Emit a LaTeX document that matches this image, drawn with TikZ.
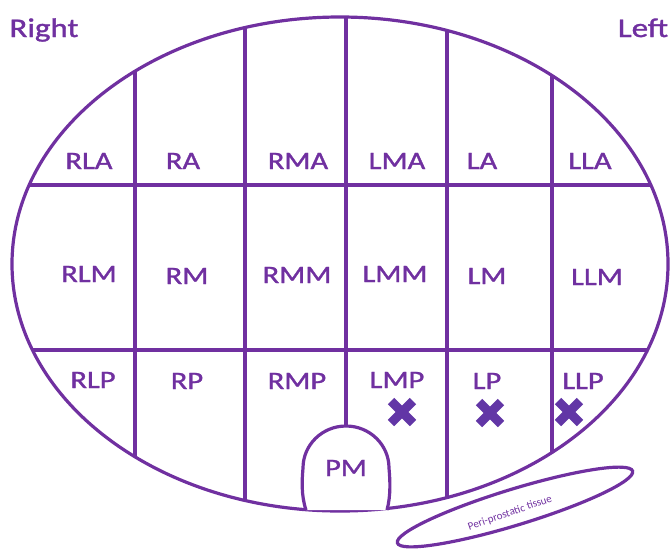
\documentclass[tikz,border=0pt]{standalone}
\usepackage{fontspec}
\setmainfont{Carlito}
\newfontfamily\labfont[FakeBold=1.2]{Carlito}
\definecolor{pur}{HTML}{7030A0}
\definecolor{xpur}{HTML}{6236A6}
\begin{document}
\begin{tikzpicture}[x=1pt,y=-1pt,
  ln/.style={draw=pur,line width=3.2pt},
  lab/.style={text=pur,font=\labfont\fontsize{25}{25}\selectfont,xscale=1.22,inner sep=0pt,anchor=base},
  side/.style={text=pur,font=\labfont\fontsize{27}{27}\selectfont,xscale=1.22,inner sep=0pt,anchor=base},
  xmark/.style={draw=xpur,line width=9pt}]
\useasboundingbox (0,0) rectangle (671,550);
\coordinate (C) at (340,264);
\begin{scope}
  \clip (C) ellipse [x radius=328pt, y radius=247pt];
  \draw[ln] (0,185) -- (671,185);
  \draw[ln] (0,350) -- (671,350);
  \draw[ln] (135,0) -- (135,550);
  \draw[ln] (245,0) -- (245,550);
  \draw[ln] (447,0) -- (447,550);
  \draw[ln] (552,0) -- (552,550);
  \coordinate (PMtop) at (346,426);
  \draw[ln] (346,0) -- (PMtop);
\end{scope}
\draw[ln] (C) ellipse [x radius=328pt, y radius=247pt];
% PM dome
\draw[ln,fill=white] (306,510) .. controls (301,495) and (302,480) .. (303,468)
   arc[start angle=180, end angle=0, x radius=43pt, y radius=42pt]
   .. controls (390,480) and (391,495) .. (387,510);
\node[lab] (PM) at (346,476) {PM};
% labels
\node[side] (right) at (44,37) {Right};
\node[side] (left) at (643,37) {Left};
\node[lab] (RLA) at (89,169) {RLA};
\node[lab] (RA) at (183,169) {RA};
\node[lab] (RMA) at (298,169) {RMA};
\node[lab] (LMA) at (397,169) {LMA};
\node[lab] (LA) at (482,169) {LA};
\node[lab] (LLA) at (590,169) {LLA};
\node[lab] (RLM) at (89,282) {RLM};
\node[lab] (RM) at (187,284) {RM};
\node[lab] (RMM) at (297,283) {RMM};
\node[lab] (LMM) at (395,282) {LMM};
\node[lab] (LM) at (487,284) {LM};
\node[lab] (LLM) at (597,285) {LLM};
\node[lab] (RLP) at (93,388) {RLP};
\node[lab] (RP) at (187,389) {RP};
\node[lab] (RMP) at (297,389) {RMP};
\node[lab] (LMP) at (397,388) {LMP};
\node[lab] (LP) at (487,389) {LP};
\node[lab] (LLP) at (583,389) {LLP};
% crosses
\foreach \n/\x/\y in {a/402/412, b/490/413, c/569/412}{
  \coordinate (X\n) at (\x,\y);
  \draw[xmark] ([shift={(-11,-11)}]X\n) -- ([shift={(11,11)}]X\n);
  \draw[xmark] ([shift={(-11,11)}]X\n) -- ([shift={(11,-11)}]X\n);
}
% peri-prostatic tissue
\draw[ln] (515,507) ellipse [x radius=123pt, y radius=18pt, rotate=17];
\node[text=pur,font=\fontsize{11}{11}\selectfont,rotate=19,inner sep=0pt] (peri) at (510,513) {Peri-prostatic tissue};
\end{tikzpicture}
\end{document}
